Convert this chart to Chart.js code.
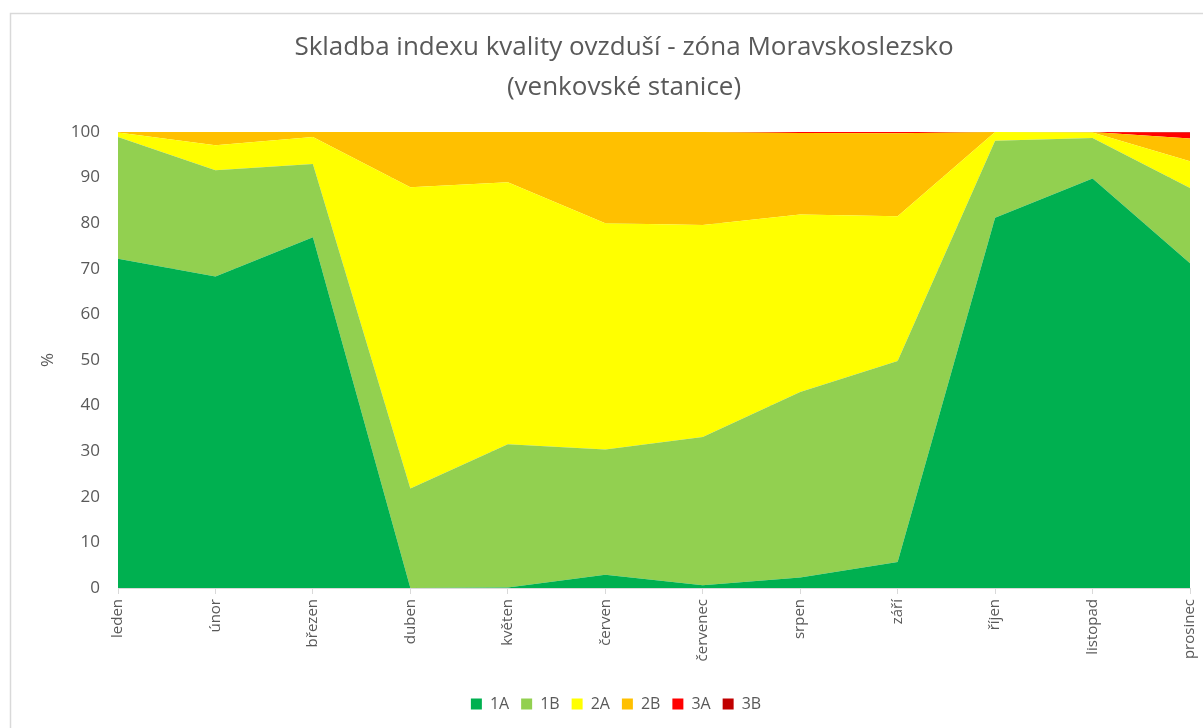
<!DOCTYPE html>
<html>
<head>
<meta charset="utf-8">
<script src="https://cdn.jsdelivr.net/npm/chart.js@4"></script>
<style>
  html, body { margin: 0; padding: 0; background: #ffffff; }
  #wrap { width: 1203px; height: 728px; position: relative; }
</style>
</head>
<body>
<div id="wrap"><canvas id="c" width="1203" height="728"></canvas></div>
<script>
// Months of the year (Czech)
const months = ['leden', 'únor', 'březen', 'duben', 'květen', 'červen',
  'červenec', 'srpen', 'září', 'říjen', 'listopad', 'prosinec'];

// Share of each air-quality index class per month, in %
const share1A = [72.2, 68.3, 76.9, 0.0, 0.1, 2.9, 0.6, 2.3, 5.7, 81.2, 89.8, 71.2];
const share1B = [26.7, 23.3, 16.1, 21.8, 31.4, 27.5, 32.5, 40.7, 44.1, 16.9, 8.9, 16.5];
const share2A = [1.0, 5.5, 5.9, 66.1, 57.5, 49.6, 46.5, 38.9, 31.7, 1.9, 1.2, 5.9];
const share2B = [0.1, 2.9, 1.1, 12.1, 11.0, 20.0, 20.4, 17.9, 18.2, 0.0, 0.1, 5.0];
const share3A = [0.0, 0.0, 0.0, 0.0, 0.0, 0.0, 0.0, 0.2, 0.3, 0.0, 0.0, 1.3];
const share3B = [0.0, 0.0, 0.0, 0.0, 0.0, 0.0, 0.0, 0.0, 0.0, 0.0, 0.0, 0.1];

// Y axis ticks
const yTicks = [0, 10, 20, 30, 40, 50, 60, 70, 80, 90, 100];

// Chart title lines
const titleLines = ['Skladba indexu kvality ovzduší - zóna Moravskoslezsko', '(venkovské stanice)'];

const classes = [
  { label: '1A', data: share1A, color: '#00B050' },
  { label: '1B', data: share1B, color: '#92D050' },
  { label: '2A', data: share2A, color: '#FFFF00' },
  { label: '2B', data: share2B, color: '#FFC000' },
  { label: '3A', data: share3A, color: '#FF0000' },
  { label: '3B', data: share3B, color: '#C00000' }
];

const FONT = "'Open Sans', 'Noto Sans', sans-serif";
const TEXT = '#595959';

// Grey frame round the whole chart, plus the two-line title centred on the frame
const framePlugin = {
  id: 'frame',
  beforeDraw(chart) {
    const ctx = chart.ctx;
    ctx.save();
    ctx.strokeStyle = '#d9d9d9';
    ctx.lineWidth = 1.5;
    ctx.strokeRect(10.5, 13.5, chart.width + 20, chart.height + 20);
    ctx.fillStyle = TEXT;
    ctx.font = "26px " + FONT;
    ctx.textAlign = 'center';
    ctx.textBaseline = 'middle';
    ctx.fillText(titleLines[0], 624, 48);
    ctx.fillText(titleLines[1], 624, 88);
    ctx.restore();
  },
  // Centre the legend row on the frame rather than on the canvas
  afterLayout(chart) {
    if (chart.legend) {
      chart.legend.left += 21;
      chart.legend.right += 21;
    }
  }
};

new Chart(document.getElementById('c'), {
  type: 'line',
  data: {
    labels: months,
    datasets: classes.map((c, i) => ({
      label: c.label,
      data: c.data,
      backgroundColor: c.color,
      borderColor: c.color,
      borderWidth: 0,
      pointRadius: 0,
      pointHoverRadius: 0,
      tension: 0,
      fill: i === 0 ? 'origin' : '-1'
    }))
  },
  options: {
    responsive: false,
    animation: false,
    layout: { padding: { left: 0, right: 13, top: 132, bottom: 6 } },
    plugins: {
      title: { display: false },
      legend: {
        position: 'bottom',
        labels: {
          color: TEXT,
          font: { family: FONT, size: 16 },
          boxWidth: 11,
          boxHeight: 11,
          padding: 12
        }
      },
      tooltip: { enabled: false }
    },
    scales: {
      x: {
        offset: false,
        grid: {
          drawOnChartArea: false,
          drawTicks: true,
          tickLength: 6,
          color: '#d9d9d9'
        },
        border: { color: '#d9d9d9', width: 1 },
        ticks: {
          color: TEXT,
          font: { family: FONT, size: 15 },
          minRotation: 90,
          maxRotation: 90,
          autoSkip: false,
          padding: 5
        },
        afterFit(scale) {
          scale.height = 96;
          scale.paddingLeft = 0;
          scale.paddingRight = 0;
        }
      },
      y: {
        stacked: true,
        min: 0,
        max: 100,
        afterBuildTicks(scale) { scale.ticks = yTicks.map(v => ({ value: v })); },
        grid: { drawTicks: false, color: '#d9d9d9' },
        border: { display: false },
        ticks: {
          color: TEXT,
          font: { family: FONT, size: 17 },
          padding: 18
        },
        title: {
          display: true,
          text: '%',
          color: TEXT,
          font: { family: FONT, size: 17 },
          padding: { top: 38, bottom: 0 }
        },
        afterFit(scale) { scale.width = 118; }
      }
    }
  },
  plugins: [framePlugin]
});
</script>
</body>
</html>
